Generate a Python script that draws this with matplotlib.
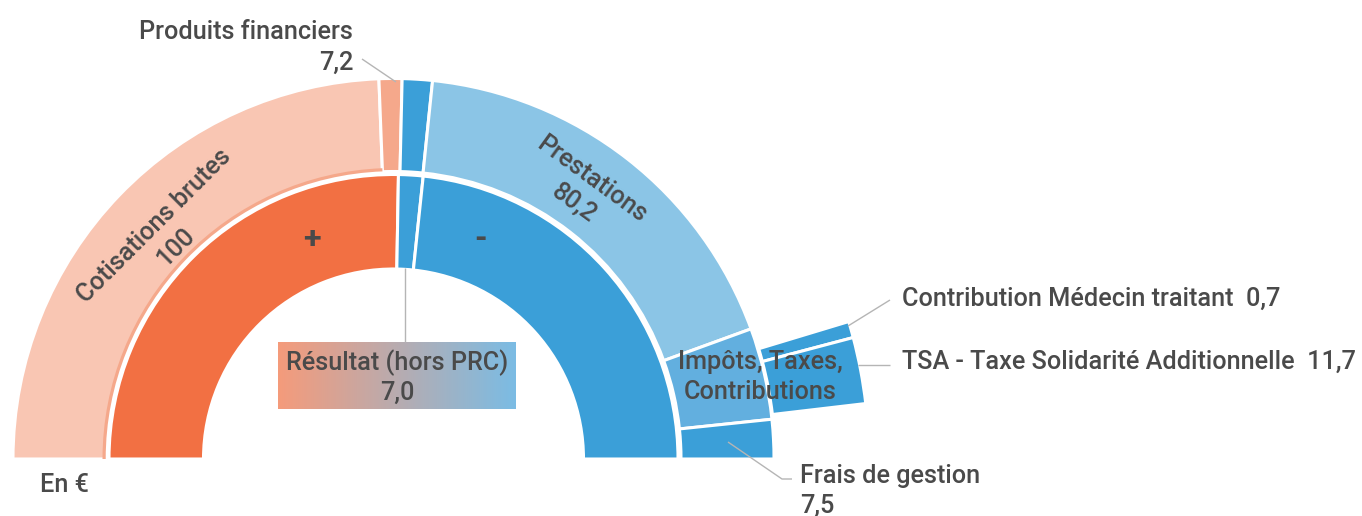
import numpy as np
import matplotlib.pyplot as plt
from matplotlib.colors import LinearSegmentedColormap

# values shown in the labels
outer_labels = ['Cotisations brutes', 'Produits financiers', 'Résultat (hors PRC)',
                'Prestations', 'Impôts, Taxes, Contributions', 'Frais de gestion']
outer_values = [100, 7.2, 7.0, 80.2, 12.4, 7.5]
# angular size of each slice as drawn (degrees, clockwise from the left)
outer_span = [87.8, 3.5, 4.6, 64.1, 14.0, 6.0]

inner_labels = ['+', 'Résultat (hors PRC)', '-']
inner_span = [91.0, 5.0, 84.0]

tax_labels = ['Contribution Médecin traitant', 'TSA - Taxe Solidarité Additionnelle']
tax_values = [0.7, 11.7]
tax_span = [2.0, 8.1]
tax_start = 16.8

W, H = 1362, 516
CX, CY = 393.5, H - 459
TXT = '#4a4a4a'
LINE = '#b5b5b5'
FONT = ['Roboto', 'DejaVu Sans']
FS = 18.2

outer_colors = ['#F9C6B3', '#F5A88B', '#3B9FD8', '#8BC5E6', '#62AFDF', '#3B9FD8']
inner_colors = ['#F27043', '#3B9FD8', '#3B9FD8']
tax_colors = ['#3B9FD8', '#3B9FD8']

fig = plt.figure(figsize=(W / 100, H / 100), dpi=100)
ax = fig.add_axes([0, 0, 1, 1])


def ring(spans, colors, start, r_out, width, lw=2.2):
    ax.pie(np.array(spans) / 360., radius=r_out, center=(CX, CY), startangle=start,
           counterclock=False, colors=colors, normalize=False,
           wedgeprops=dict(width=width, edgecolor='white', linewidth=lw))


ring(inner_span, inner_colors, 180, 284.5, 94.5)
ring(outer_span, outer_colors, 180, 380.5, 93)
ring(outer_span[:1], [outer_colors[1]], 180, 291, 3.2, lw=0)
ring(tax_span, tax_colors, tax_start, 475.5, 94)


def txt(x, y, s, **kw):
    kw.setdefault('color', TXT)
    kw.setdefault('fontsize', FS)
    kw.setdefault('family', FONT)
    kw.setdefault('fontweight', 'medium')
    ax.text(x, H - y, s, **kw)


def leader(xs, ys):
    ax.plot(xs, [H - y for y in ys], color=LINE, lw=1, solid_capstyle='butt')


def fmt(v):
    return '{:.1f}'.format(v).replace('.', ',') if v != int(v) or v < 10 else '{:d}'.format(int(v))


# résultat gradient box
cmap = LinearSegmentedColormap.from_list('res', ['#F59B7B', '#7BBCE4'])
ax.imshow(np.linspace(0, 1, 256).reshape(1, -1), cmap=cmap, aspect='auto',
          extent=(278, 516, H - 409, H - 342), zorder=1)
leader([405, 405], [268, 342])
txt(397, 370, outer_labels[2], ha='center', va='baseline')
txt(397, 400, '{:.1f}'.format(outer_values[2]).replace('.', ','), ha='center', va='baseline')

# outer ring labels
txt(154, 226, outer_labels[0], rotation=45, rotation_mode='anchor', ha='center', va='center')
txt(176, 247, fmt(outer_values[0]), rotation=45, rotation_mode='anchor', ha='center', va='center')
txt(592, 179, outer_labels[3], rotation=-36, rotation_mode='anchor', ha='center', va='center')
txt(574, 203, fmt(outer_values[3]), rotation=-36, rotation_mode='anchor', ha='center', va='center')

txt(353, 39, outer_labels[1], ha='right', va='baseline')
txt(353, 70, fmt(outer_values[1]), ha='right', va='baseline')
leader([362, 396], [59, 82])

txt(760, 369, 'Impôts, Taxes,', ha='center', va='baseline')
txt(760, 399, 'Contributions', ha='center', va='baseline')

txt(800, 483, outer_labels[5], ha='left', va='baseline')
txt(800, 513, fmt(outer_values[5]), ha='left', va='baseline')
leader([728, 782, 792], [442, 479, 479])

txt(902, 306, '{}  {}'.format(tax_labels[0], fmt(tax_values[0])), ha='left', va='baseline')
txt(902, 369, '{}  {}'.format(tax_labels[1], fmt(tax_values[1])), ha='left', va='baseline')
leader([848, 890], [326, 300])
leader([858, 890], [365, 365])

# signs
txt(312, 239, inner_labels[0], ha='center', va='center', fontsize=FS + 5, fontweight='bold')
txt(481, 239, inner_labels[2], ha='center', va='center', fontsize=FS + 5, fontweight='bold')

txt(40, 492, 'En €', ha='left', va='baseline')

ax.set_xlim(0, W)
ax.set_ylim(0, H)
ax.set_aspect('equal')
ax.axis('off')
fig.savefig('out.png', dpi=100)
